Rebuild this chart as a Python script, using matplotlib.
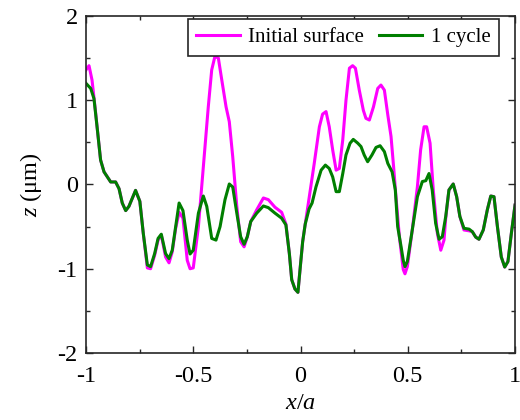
import matplotlib
matplotlib.use('Agg')
import matplotlib.pyplot as plt
from matplotlib.ticker import MultipleLocator

plt.rcParams['font.family'] = 'Liberation Serif'
plt.rcParams['mathtext.fontset'] = 'custom'
plt.rcParams['mathtext.rm'] = 'Liberation Serif'
plt.rcParams['mathtext.it'] = 'Liberation Serif:italic'
plt.rcParams['axes.unicode_minus'] = False

# initial surface profile
x_init = [-1.0, -0.986, -0.972, -0.955, -0.947, -0.932, -0.916, -0.885, -0.862, -0.846,
          -0.831, -0.815, -0.80, -0.769, -0.749, -0.733, -0.714, -0.699, -0.68, -0.664,
          -0.649, -0.629, -0.613, -0.598, -0.582, -0.566, -0.548, -0.528, -0.515, -0.50,
          -0.476, -0.453, -0.43, -0.414, -0.399, -0.383, -0.367, -0.347, -0.332, -0.316,
          -0.297, -0.279, -0.263, -0.248, -0.232, -0.204, -0.173, -0.150, -0.119, -0.088,
          -0.068, -0.052, -0.041, -0.026, -0.012, 0.0, 0.01, 0.022, 0.041, 0.064,
          0.088, 0.103, 0.119, 0.134, 0.150, 0.166, 0.181, 0.197, 0.212, 0.228,
          0.243, 0.256, 0.274, 0.293, 0.305, 0.321, 0.340, 0.360, 0.375, 0.391,
          0.407, 0.422, 0.434, 0.445, 0.461, 0.479, 0.487, 0.498, 0.521, 0.545,
          0.560, 0.576, 0.588, 0.604, 0.619, 0.638, 0.654, 0.669, 0.677, 0.692,
          0.712, 0.728, 0.743, 0.762, 0.786, 0.801, 0.817, 0.832, 0.852, 0.871,
          0.887, 0.902, 0.918, 0.936, 0.952, 0.967, 0.983, 1.0]
z_init = [1.36, 1.41, 1.24, 0.85, 0.65, 0.29, 0.15, 0.03, 0.03, -0.05,
          -0.22, -0.31, -0.26, -0.07, -0.20, -0.58, -0.99, -1.0, -0.84, -0.66,
          -0.60, -0.86, -0.93, -0.80, -0.52, -0.33, -0.40, -0.90, -1.0, -0.99,
          -0.50, 0.21, 0.92, 1.36, 1.52, 1.50, 1.24, 0.92, 0.745, 0.33,
          -0.26, -0.68, -0.74, -0.62, -0.44, -0.30, -0.16, -0.18, -0.27, -0.33,
          -0.47, -0.82, -1.13, -1.24, -1.28, -0.95, -0.68, -0.47, -0.145, 0.25,
          0.685, 0.835, 0.865, 0.685, 0.41, 0.17, 0.19, 0.53, 1.00, 1.38,
          1.41, 1.38, 1.12, 0.88, 0.785, 0.765, 0.92, 1.14, 1.18, 1.12,
          0.825, 0.57, 0.21, -0.145, -0.62, -1.01, -1.06, -0.975, -0.54, -0.025,
          0.41, 0.685, 0.685, 0.49, -0.065, -0.58, -0.78, -0.66, -0.40, -0.065,
          0.006, -0.145, -0.38, -0.54, -0.55, -0.56, -0.625, -0.65, -0.54, -0.30,
          -0.137, -0.145, -0.50, -0.86, -0.98, -0.915, -0.58, -0.245]

# profile after 1 cycle
x_cyc = [-1.0, -0.978, -0.963, -0.947, -0.932, -0.916, -0.885, -0.862, -0.846, -0.831,
         -0.815, -0.80, -0.769, -0.749, -0.733, -0.714, -0.699, -0.68, -0.664, -0.649,
         -0.629, -0.613, -0.598, -0.582, -0.566, -0.548, -0.528, -0.515, -0.50, -0.476,
         -0.453, -0.437, -0.414, -0.394, -0.375, -0.352, -0.332, -0.316, -0.297, -0.279,
         -0.263, -0.248, -0.232, -0.204, -0.173, -0.150, -0.119, -0.088, -0.068, -0.052,
         -0.041, -0.026, -0.012, 0.0, 0.01, 0.022, 0.04, 0.054, 0.072, 0.096,
         0.116, 0.134, 0.150, 0.166, 0.181, 0.197, 0.212, 0.231, 0.246, 0.267,
         0.282, 0.297, 0.313, 0.333, 0.352, 0.371, 0.391, 0.407, 0.427, 0.442,
         0.453, 0.469, 0.479, 0.487, 0.498, 0.521, 0.545, 0.568, 0.584, 0.599,
         0.614, 0.630, 0.646, 0.661, 0.677, 0.692, 0.712, 0.728, 0.743, 0.762,
         0.786, 0.801, 0.817, 0.832, 0.852, 0.871, 0.887, 0.902, 0.918, 0.936,
         0.952, 0.967, 0.983, 1.0]
z_cyc = [1.20, 1.14, 1.02, 0.65, 0.29, 0.15, 0.03, 0.03, -0.05, -0.22,
         -0.31, -0.26, -0.07, -0.20, -0.58, -0.955, -0.975, -0.82, -0.64, -0.59,
         -0.82, -0.88, -0.78, -0.50, -0.22, -0.31, -0.66, -0.825, -0.78, -0.34,
         -0.137, -0.26, -0.64, -0.66, -0.50, -0.18, 0.006, -0.03, -0.34, -0.62,
         -0.71, -0.62, -0.44, -0.34, -0.255, -0.275, -0.34, -0.40, -0.48, -0.82,
         -1.13, -1.24, -1.28, -0.95, -0.68, -0.47, -0.29, -0.22, -0.03, 0.17,
         0.23, 0.19, 0.09, -0.085, -0.085, 0.13, 0.35, 0.49, 0.535, 0.49,
         0.45, 0.35, 0.27, 0.35, 0.44, 0.46, 0.39, 0.25, 0.15, -0.065,
         -0.50, -0.74, -0.90, -0.975, -0.915, -0.54, -0.145, 0.035, 0.045, 0.13,
         -0.065, -0.46, -0.65, -0.62, -0.38, -0.065, 0.006, -0.145, -0.38, -0.52,
         -0.53, -0.56, -0.625, -0.65, -0.54, -0.30, -0.137, -0.145, -0.50, -0.86,
         -0.98, -0.915, -0.58, -0.245]

fig = plt.figure(figsize=(5.2, 4.2), dpi=100)
ax = fig.add_axes([0.1654, 0.1595, 0.825, 0.8025])

ax.plot(x_init, z_init, color='#FF00FF', lw=2.2, label='Initial surface')
ax.plot(x_cyc, z_cyc, color='#007F00', lw=2.2, label='1 cycle')

ax.set_xlim(-1, 1)
ax.set_ylim(-2, 2)
ax.set_xticks([-1, -0.5, 0, 0.5, 1])
ax.set_xticklabels(['-1', '-0.5', '0', '0.5', '1'])
ax.set_yticks([-2, -1, 0, 1, 2])
ax.xaxis.set_minor_locator(MultipleLocator(0.25))
ax.yaxis.set_minor_locator(MultipleLocator(0.5))
ax.tick_params(which='both', direction='in', top=True, right=True, labelsize=17.5,
               color='#262626', width=1.0)
ax.tick_params(which='major', length=5)
ax.tick_params(axis='x', which='major', pad=9)
ax.tick_params(axis='y', which='major', pad=6)
ax.tick_params(which='minor', length=3)
for s in ax.spines.values():
    s.set_linewidth(1.2)
    s.set_color('#262626')

ax.set_xlabel(r'$x/a$', fontsize=17.5, labelpad=5)
ax.set_ylabel(r'$z$ (μm)', fontsize=17.5, labelpad=10)

leg = ax.legend(loc='upper right', bbox_to_anchor=(0.962, 0.99), ncol=2,
                fontsize=15, frameon=True, fancybox=False, borderaxespad=0,
                handlelength=2.1, handletextpad=0.4, columnspacing=0.7,
                borderpad=0.4)
leg.get_frame().set_edgecolor('#262626')
leg.get_frame().set_linewidth(1.2)
leg.get_frame().set_alpha(1)

fig.savefig('out.png', dpi=100)
